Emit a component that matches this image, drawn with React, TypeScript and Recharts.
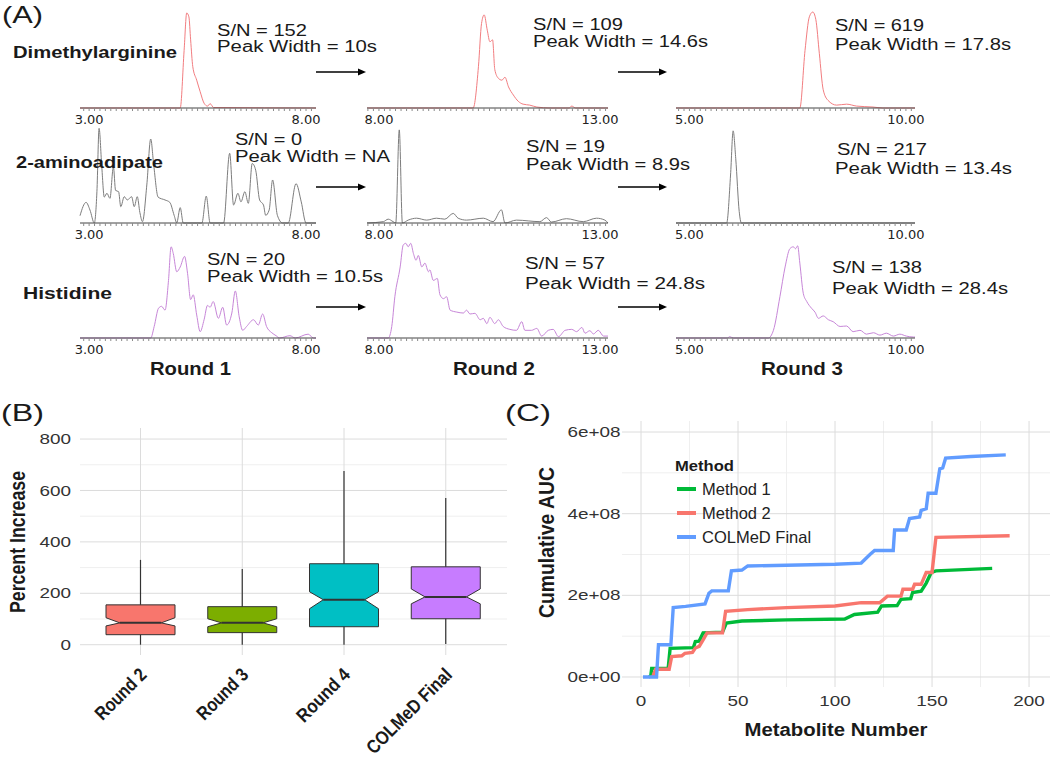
import React from 'react';
import { LineChart, Line, XAxis, YAxis, CartesianGrid, ComposedChart, Bar } from 'recharts';

const SANS = "'Liberation Sans', Arial, Helvetica, sans-serif";
const INK = '#1a1a1a';
const GRID = '#dcdcdc';
const GRID_MINOR = '#efefef';

type Pt = [number, number];

// ---------- (A) chromatograms: [retention time (min), intensity (% of panel max)]
const dmaRound1: Pt[] = [[2.79, 0], [5.1, 0], [5.19, 60], [5.25, 99], [5.3, 95], [5.34, 71], [5.39, 43], [5.48, 29], [5.56, 17], [5.65, 5], [5.73, 2], [5.79, 4.5], [5.87, 0.5], [8.23, 0]];
const dmaRound2: Pt[] = [[7.73, 0], [10.13, 0], [10.25, 43], [10.32, 88], [10.38, 97], [10.45, 81], [10.51, 69], [10.57, 71], [10.62, 40], [10.7, 31], [10.78, 29], [10.85, 32], [10.93, 22], [11.04, 13.5], [11.15, 7], [11.26, 4], [11.41, 3], [11.57, 1], [11.87, 0], [12.3, 0], [12.36, 2], [12.45, 0], [13.18, 0]];
const dmaRound3: Pt[] = [[4.69, 0], [7.55, 0], [7.67, 60], [7.77, 95], [7.85, 100], [7.92, 92], [8.0, 57], [8.09, 19], [8.2, 8], [8.4, 3], [8.63, 4], [8.86, 2], [9.24, 1], [9.47, 0], [10.21, 0]];

const aadRound1: Pt[] = [[2.79, 7.6], [2.93, 21.5], [3.02, 13.5], [3.12, 0], [3.18, 32.6], [3.23, 98.6], [3.29, 60], [3.35, 27], [3.41, 31], [3.48, 25.7], [3.56, 58.6], [3.61, 34], [3.68, 32.6], [3.73, 17], [3.81, 27.4], [3.88, 24], [3.98, 27.4], [4.04, 17], [4.11, 27.4], [4.17, 11], [4.23, 1.4], [4.33, 39.6], [4.42, 87.5], [4.49, 60], [4.59, 27], [4.75, 24], [4.86, 21.5], [4.96, 8], [5.02, 0.3], [5.1, 16], [5.17, 0], [5.6, 0], [5.7, 28], [5.79, 0], [6.1, 0], [6.24, 72.6], [6.33, 18.7], [6.43, 31], [6.5, 22], [6.59, 32.6], [6.67, 20.5], [6.76, 62], [6.84, 55], [6.93, 24], [7.02, 18.7], [7.07, 8], [7.15, 13.5], [7.23, 44.8], [7.34, 8], [7.46, 0], [7.59, 0], [7.77, 41], [7.89, 22], [8.0, 0], [8.23, 0]];
const aadRound2: Pt[] = [[7.73, 0], [8.1, 1.4], [8.21, 4], [8.32, 1.4], [8.38, 0], [8.46, 97], [8.53, 0], [8.66, 3], [8.85, 5], [9.08, 3], [9.3, 5], [9.49, 4], [9.68, 10], [9.79, 5], [9.98, 3], [10.36, 5], [10.58, 1.4], [10.77, 13.7], [10.85, 0], [11.11, 3], [11.64, 1.4], [11.79, 5.6], [11.9, 1], [12.24, 4.5], [12.62, 1.4], [12.92, 5], [13.11, 3], [13.18, 0]];
const aadRound3: Pt[] = [[4.69, 0], [5.86, 0], [5.95, 50], [6.01, 96], [6.07, 67], [6.15, 12], [6.2, 0], [10.21, 0]];

const hisRound1: Pt[] = [[2.79, 0], [4.42, 0], [4.5, 12], [4.6, 31], [4.67, 33], [4.75, 29], [4.83, 60], [4.89, 95], [4.94, 88], [5.02, 69], [5.1, 74], [5.2, 85], [5.27, 67], [5.34, 40], [5.4, 45], [5.48, 24], [5.56, 6.6], [5.65, 19], [5.73, 34], [5.79, 32], [5.86, 38], [5.98, 20.5], [6.08, 32], [6.17, 13.5], [6.29, 26], [6.37, 49], [6.46, 22], [6.54, 8], [6.63, 12], [6.79, 19], [6.9, 13.5], [7.0, 25], [7.09, 12], [7.21, 5.5], [7.31, 2.4], [7.39, 0], [7.63, 2.4], [7.75, 0], [8.05, 4], [8.17, 0], [8.23, 0]];
const hisRound2: Pt[] = [[7.73, 0], [8.21, 0], [8.29, 12], [8.36, 43], [8.48, 74], [8.55, 97], [8.61, 98.6], [8.66, 95], [8.72, 98.6], [8.78, 88], [8.84, 81], [8.89, 86], [8.97, 74], [9.04, 78], [9.12, 69], [9.15, 71], [9.23, 60], [9.32, 62], [9.38, 45], [9.46, 41], [9.53, 43], [9.61, 29], [9.76, 27], [9.91, 26], [9.98, 29], [10.06, 25], [10.17, 25.7], [10.29, 19], [10.36, 20.5], [10.44, 15], [10.51, 21.5], [10.62, 15], [10.7, 19], [10.81, 12], [10.96, 9], [11.11, 8], [11.23, 17], [11.3, 8], [11.45, 8], [11.57, 10], [11.68, 2], [11.83, 8], [11.94, 9], [12.06, 1.4], [12.21, 8], [12.36, 9], [12.47, 6.6], [12.59, 11], [12.66, 5], [12.77, 7.6], [12.85, 4.2], [12.96, 8], [13.08, 2], [13.18, 2]];
const hisRound3: Pt[] = [[4.69, 0], [5.88, 0], [5.93, 1.4], [6.01, 0], [6.82, 0], [6.94, 8], [7.09, 43], [7.21, 74], [7.32, 93], [7.4, 95], [7.45, 93], [7.5, 96], [7.55, 78], [7.63, 46.5], [7.71, 38], [7.82, 31], [7.9, 27], [7.98, 20.5], [8.09, 23], [8.21, 19], [8.32, 17], [8.48, 12], [8.63, 12.5], [8.78, 6.6], [8.94, 8], [9.09, 4], [9.25, 5.5], [9.4, 3], [9.55, 5], [9.71, 2], [9.86, 4], [10.01, 2], [10.17, 1], [10.21, 1]];

// ---------- (B) percent increase box plots
const boxCats = ['Round 2', 'Round 3', 'Round 4', 'COLMeD Final'];
const boxLow = [0, 0, 0, 3];
const boxQ1 = [39, 47, 70, 101];
const notchLow = [73, 70, 140, 159];
const boxMed = [85, 85, 175, 186];
const notchHigh = [105, 101, 206, 217];
const boxQ3 = [155, 148, 315, 303];
const boxHigh = [330, 295, 676, 571];
const boxFill = ['#F8766D', '#7CAE00', '#00BFC4', '#C77CFF'];
const boxTicks = [0, 200, 400, 600, 800];
const boxMinorTicks = [100, 300, 500, 700];

// ---------- (C) cumulative AUC, [metabolite number, AUC in 1e8]
const method1Cum: Pt[] = [[4, 0], [5, 0.02], [5.5, 0.21], [14, 0.21], [15, 0.7], [27, 0.72], [28, 0.87], [30, 0.88], [32, 1.08], [42, 1.1], [44, 1.32], [52, 1.37], [75, 1.4], [105, 1.42], [110, 1.53], [122, 1.59], [124, 1.74], [132, 1.75], [134, 1.9], [139, 1.92], [140, 2.07], [144.4, 2.1], [147, 2.3], [149.6, 2.56], [152, 2.6], [181, 2.66]];
const method2Cum: Pt[] = [[6, 0], [7.5, 0.19], [14.5, 0.19], [15.8, 0.5], [21, 0.52], [22.6, 0.58], [26.5, 0.6], [28, 0.71], [30, 0.75], [32, 0.91], [34, 1.08], [42, 1.08], [43.6, 1.61], [55, 1.65], [75, 1.7], [100, 1.74], [113.5, 1.82], [123, 1.82], [127, 1.98], [134, 1.98], [135, 2.15], [140, 2.15], [141, 2.27], [144.4, 2.27], [147, 2.56], [150, 2.56], [152, 3.42], [190, 3.46]];
const colmedCum: Pt[] = [[1, 0], [8, 0], [9, 0.79], [15.4, 0.79], [16.6, 1.7], [23, 1.73], [33, 1.79], [35, 2.05], [36.5, 2.11], [45, 2.11], [46.6, 2.6], [52, 2.62], [55, 2.72], [100, 2.76], [113.5, 2.79], [118, 3.0], [120.4, 3.1], [130, 3.1], [130.7, 3.6], [136.7, 3.6], [138.4, 3.88], [143.6, 3.92], [144.4, 4.08], [147, 4.12], [148, 4.5], [152, 4.5], [154, 5.1], [155.5, 5.12], [157, 5.36], [170, 5.4], [188, 5.44]];
const cumXTicks = [0, 50, 100, 150, 200];
const cumXMinor = [25, 75, 125, 175];
const cumYTicks = [0, 2, 4, 6];
const cumYMinor = [1, 3, 5];

const cumSeries = [
  { name: 'Method 1', color: '#00BA38', pts: method1Cum },
  { name: 'Method 2', color: '#F8766D', pts: method2Cum },
  { name: 'COLMeD Final', color: '#619CFF', pts: colmedCum },
];

// layout of the 3x3 chromatogram grid
const chromCols = [
  { left: 80, right: 316, domain: [2.79, 8.23], labels: [3, 8] },
  { left: 367, right: 608, domain: [7.73, 13.18], labels: [8, 13] },
  { left: 676, right: 915, domain: [4.69, 10.21], labels: [5, 10] },
];
const chromRows = [
  { top: 12, color: '#f27d80', traces: [dmaRound1, dmaRound2, dmaRound3] },
  { top: 127, color: '#7d7d7d', traces: [aadRound1, aadRound2, aadRound3] },
  { top: 242, color: '#c786d8', traces: [hisRound1, hisRound2, hisRound3] },
];

// rotated category label lengths in panel B
const boxLabelLen: Record<string, number> = { 'Round 2': 64, 'Round 3': 64, 'Round 4': 67, 'COLMeD Final': 112 };

function minorTicks(lo: number, hi: number) {
  const out: number[] = [];
  for (let v = Math.ceil(lo * 8) / 8; v <= hi + 1e-9; v += 0.125) out.push(v);
  return out;
}

function Txt({ x, y, w, size, bold, anchor = 'start', rotate = 0, sx = 1, color = INK, family = SANS, children }: any) {
  return (
    <text
      x={0}
      y={0}
      transform={`translate(${x},${y}) scale(${sx},1) rotate(${rotate})`}
      textAnchor={anchor}
      fontFamily={family}
      fontSize={size}
      fontWeight={bold ? 700 : 400}
      fill={color}
      textLength={w}
      lengthAdjust={w ? 'spacingAndGlyphs' : undefined}
    >
      {children}
    </text>
  );
}

function Arrow({ x1, x2, y }: { x1: number; x2: number; y: number }) {
  return (
    <g>
      <line x1={x1} x2={x2 - 6} y1={y} y2={y} stroke="#000" strokeWidth={1.6} />
      <polygon points={`${x2},${y} ${x2 - 8},${y - 3.5} ${x2 - 8},${y + 3.5}`} fill="#000" />
    </g>
  );
}

const PAD = 24;
const PLOT_H = 96;

function Chrom({ pts, color, domain, labels, left, right, top }: any) {
  const rows = pts.map(([t, v]: Pt) => ({ t, v }));
  const width = right - left;
  return (
    <div style={{ position: 'absolute', left: left - PAD, top: top - 4 }}>
      <LineChart width={width + 2 * PAD} height={PLOT_H + 4 + 24} data={rows} margin={{ top: 4, right: PAD, bottom: 0, left: PAD }}>
        <XAxis
          type="number"
          dataKey="t"
          domain={domain}
          ticks={minorTicks(domain[0], domain[1])}
          interval={0}
          height={24}
          tickSize={3}
          axisLine={{ stroke: '#444' }}
          tickLine={{ stroke: '#8a8a8a' }}
          tick={(p: any) => {
            const on = labels.some((l: number) => Math.abs(l - p.payload.value) < 1e-6);
            if (!on) return <g />;
            return (
              <text x={p.x} y={p.y + 11} textAnchor="middle" fontFamily="'DejaVu Sans', sans-serif" fontSize={13} fill="#222">
                {Number(p.payload.value).toFixed(2)}
              </text>
            );
          }}
        />
        <YAxis hide domain={[0, 100]} />
        <Line type="monotone" dataKey="v" stroke={color} strokeWidth={1} dot={false} isAnimationActive={false} />
      </LineChart>
    </div>
  );
}

const B_DOMAIN = [-40, 843];

const BoxShape = (props: any) => {
  const { x, y, width, height } = props;
  const i = props.payload?.i ?? props.index;
  const lo = boxLow[i];
  const hi = boxHigh[i];
  const top = Math.min(y, y + height);
  const h = Math.abs(height);
  const py = (v: number) => top + ((hi - v) / (hi - lo)) * h;
  const cx = x + width / 2;
  const x0 = x;
  const x1 = x + width;
  const nw = width * 0.3;
  const pts = [
    [x0, py(boxQ3[i])], [x1, py(boxQ3[i])], [x1, py(notchHigh[i])], [cx + nw, py(boxMed[i])], [x1, py(notchLow[i])],
    [x1, py(boxQ1[i])], [x0, py(boxQ1[i])], [x0, py(notchLow[i])], [cx - nw, py(boxMed[i])], [x0, py(notchHigh[i])],
  ].map((p) => p.join(',')).join(' ');
  return (
    <g>
      <line x1={cx} x2={cx} y1={py(B_DOMAIN[1])} y2={py(B_DOMAIN[0])} stroke={GRID} strokeWidth={1} />
      <line x1={cx} x2={cx} y1={py(hi)} y2={py(lo)} stroke="#333" strokeWidth={1.2} />
      <polygon points={pts} fill={boxFill[i]} stroke="#333" strokeWidth={1} />
      <line x1={cx - nw} x2={cx + nw} y1={py(boxMed[i])} y2={py(boxMed[i])} stroke="#333" strokeWidth={2} />
    </g>
  );
};

function BoxPanel() {
  const rows = boxCats.map((name, i) => ({ name, span: [boxLow[i], boxHigh[i]], i }));
  return (
    <div style={{ position: 'absolute', left: 0, top: 385 }}>
      <ComposedChart width={520} height={372} data={rows} margin={{ top: 43, right: 13, bottom: 2, left: 0 }}>
        <CartesianGrid vertical={false} stroke={GRID_MINOR} horizontalValues={boxMinorTicks} />
        <CartesianGrid vertical={false} stroke={GRID} horizontalValues={boxTicks} />
        <XAxis
          dataKey="name"
          type="category"
          padding={{ left: 10, right: 10 }}
          height={100}
          axisLine={false}
          tickLine={false}
          interval={0}
          tick={(p: any) => (
            <text
              transform={`translate(${p.x + 7},291) rotate(-45)`}
              textAnchor="end"
              fontFamily={SANS}
              fontWeight={700}
              fontSize={19}
              fill={INK}
              textLength={boxLabelLen[p.payload.value]}
              lengthAdjust="spacingAndGlyphs"
            >
              {p.payload.value}
            </text>
          )}
        />
        <YAxis
          width={80}
          type="number"
          domain={B_DOMAIN}
          ticks={boxTicks}
          interval={0}
          axisLine={false}
          tickLine={false}
          tick={(p: any) => (
            <text transform={`translate(71,${p.y}) scale(1.35,1)`} dy="0.36em" textAnchor="end" fontFamily={SANS} fontSize={14} fill="#333">
              {p.payload.value}
            </text>
          )}
        />
        <Bar dataKey="span" barSize={69} shape={BoxShape} isAnimationActive={false} />
      </ComposedChart>
    </div>
  );
}

function CumPanel() {
  return (
    <div style={{ position: 'absolute', left: 530, top: 385 }}>
      <LineChart width={520} height={372} margin={{ top: 36, right: 0, bottom: 2, left: 0 }}>
        <CartesianGrid stroke={GRID_MINOR} horizontalValues={cumYMinor} verticalValues={cumXMinor} />
        <CartesianGrid stroke={GRID} horizontalValues={cumYTicks} verticalValues={cumXTicks} />
        <XAxis
          type="number"
          dataKey="m"
          domain={[-9.8, 210.8]}
          ticks={cumXTicks}
          interval={0}
          height={68}
          axisLine={false}
          tickLine={false}
          tick={(p: any) => (
            <text transform={`translate(${p.x},321) scale(1.35,1)`} textAnchor="middle" fontFamily={SANS} fontSize={14} fill="#333">
              {p.payload.value}
            </text>
          )}
        />
        <YAxis
          type="number"
          width={92}
          domain={[-0.245, 6.27]}
          ticks={cumYTicks}
          interval={0}
          axisLine={false}
          tickLine={false}
          tick={(p: any) => (
            <text transform={`translate(90.5,${p.y}) scale(1.35,1)`} dy="0.36em" textAnchor="end" fontFamily={SANS} fontSize={14} fill="#333">
              {p.payload.value === 0 ? '0e+00' : `${p.payload.value}e+08`}
            </text>
          )}
        />
        {cumSeries.map((s) => (
          <Line
            key={s.name}
            data={s.pts.map(([m, v]) => ({ m, v }))}
            dataKey="v"
            type="linear"
            stroke={s.color}
            strokeWidth={3.4}
            dot={false}
            isAnimationActive={false}
          />
        ))}
      </LineChart>
    </div>
  );
}

export default function App() {
  return (
    <div style={{ position: 'absolute', left: 0, top: 0, width: 1050, height: 757, background: '#fff', overflow: 'hidden' }}>
      {chromRows.map((row, r) =>
        chromCols.map((col, c) => (
          <Chrom key={`${r}-${c}`} pts={row.traces[c]} color={row.color} domain={col.domain} labels={col.labels} left={col.left} right={col.right} top={row.top} />
        ))
      )}
      <BoxPanel />
      <CumPanel />
      <svg width={1050} height={757} style={{ position: 'absolute', left: 0, top: 0, pointerEvents: 'none' }}>
        <Txt x={2} y={22.5} w={41} size={24.5}>(A)</Txt>
        <Txt x={1} y={421} w={43} size={24.5}>(B)</Txt>
        <Txt x={505} y={421} w={46} size={24.5}>(C)</Txt>

        <Txt x={13} y={58} w={164} size={17} bold>Dimethylarginine</Txt>
        <Txt x={16} y={168} w={147} size={17} bold>2-aminoadipate</Txt>
        <Txt x={23} y={299} w={89} size={17} bold>Histidine</Txt>

        <Txt x={217} y={36} w={90} size={16}>S/N = 152</Txt>
        <Txt x={217} y={52} w={160} size={16}>Peak Width = 10s</Txt>
        <Txt x={533} y={30} w={90} size={16}>S/N = 109</Txt>
        <Txt x={533} y={47} w={175} size={16}>Peak Width = 14.6s</Txt>
        <Txt x={835} y={30.5} w={89} size={16}>S/N = 619</Txt>
        <Txt x={835} y={50} w={176} size={16}>Peak Width = 17.8s</Txt>

        <Txt x={235} y={145} w={67} size={16}>S/N = 0</Txt>
        <Txt x={235} y={162.3} w={155} size={16}>Peak Width = NA</Txt>
        <Txt x={526} y={151.7} w={79} size={16}>S/N = 19</Txt>
        <Txt x={526} y={170} w={164} size={16}>Peak Width = 8.9s</Txt>
        <Txt x={837} y={155} w={90} size={16}>S/N = 217</Txt>
        <Txt x={835} y={174.3} w={177} size={16}>Peak Width = 13.4s</Txt>

        <Txt x={207} y={265} w={78} size={16}>S/N = 20</Txt>
        <Txt x={207} y={281.7} w={176} size={16}>Peak Width = 10.5s</Txt>
        <Txt x={525} y={269.3} w={80} size={16}>S/N = 57</Txt>
        <Txt x={525} y={289.3} w={180} size={16}>Peak Width = 24.8s</Txt>
        <Txt x={832} y={273.3} w={90} size={16}>S/N = 138</Txt>
        <Txt x={832} y={294} w={176} size={16}>Peak Width = 28.4s</Txt>

        <Txt x={150} y={375} w={81} size={18.5} bold>Round 1</Txt>
        <Txt x={453} y={375} w={82} size={18.5} bold>Round 2</Txt>
        <Txt x={761} y={375} w={82} size={18.5} bold>Round 3</Txt>

        <Arrow x1={316} x2={366} y={72} />
        <Arrow x1={618} x2={667} y={72} />
        <Arrow x1={316} x2={366} y={187} />
        <Arrow x1={618} x2={667} y={187} />
        <Arrow x1={316} x2={366} y={307} />
        <Arrow x1={618} x2={667} y={307} />

        <Txt x={25} y={542} w={142} size={17} bold anchor="middle" rotate={-90} sx={1.35}>Percent Increase</Txt>
        <Txt x={554} y={542.5} w={151} size={17} bold anchor="middle" rotate={-90} sx={1.35}>Cumulative AUC</Txt>
        <Txt x={836} y={735.5} w={183} size={18} bold anchor="middle">Metabolite Number</Txt>

        <Txt x={675} y={471} w={59} size={15.5} bold>Method</Txt>
        {cumSeries.map((s, k) => (
          <g key={s.name}>
            <line x1={677} x2={696} y1={489 + k * 24} y2={489 + k * 24} stroke={s.color} strokeWidth={4} />
            <Txt x={702} y={495 + k * 24} size={16.5} color="#222">{s.name}</Txt>
          </g>
        ))}
      </svg>
    </div>
  );
}
